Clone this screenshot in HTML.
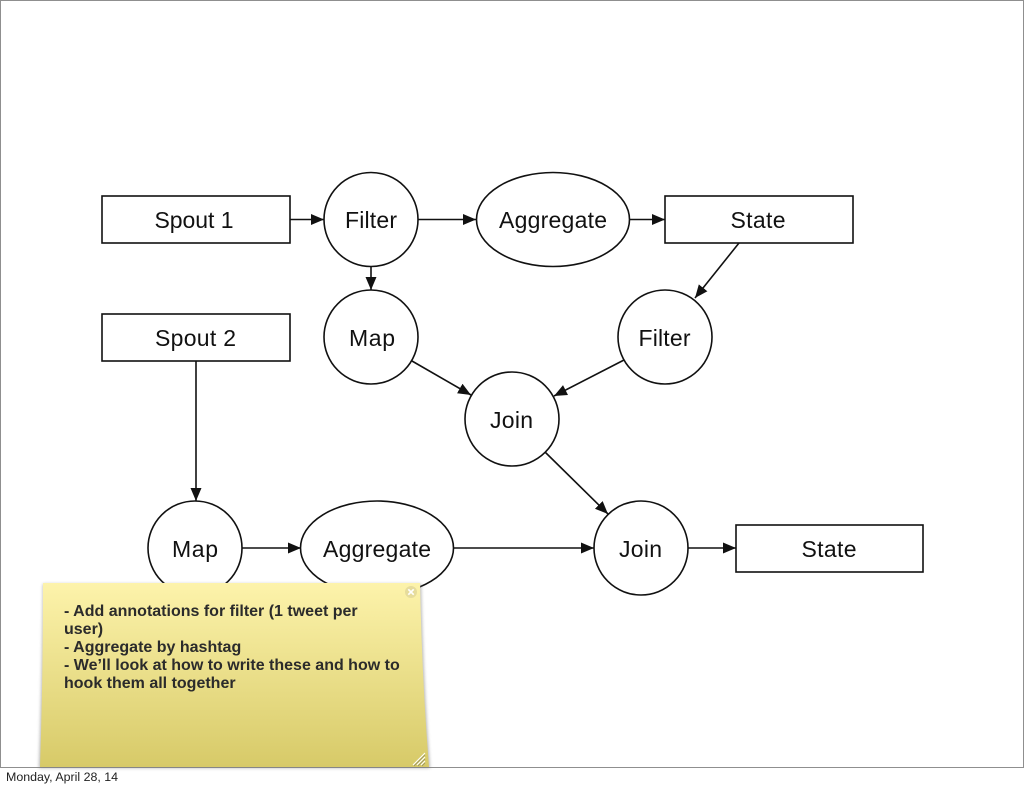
<!DOCTYPE html>
<html><head><meta charset="utf-8"><style>
html,body{margin:0;padding:0;background:#fff}
body{width:1024px;height:788px;position:relative;overflow:hidden;font-family:"Liberation Sans",sans-serif}
svg{position:absolute;left:0;top:0}
text{font-family:"Liberation Sans",sans-serif;font-size:23px;fill:#111;text-anchor:middle}
.s{fill:#fff;stroke:#111;stroke-width:1.6}
.l{stroke:#111;stroke-width:1.6;fill:none}
.t{position:absolute;left:64px;top:603px;width:345px;font-weight:bold;font-size:16px;line-height:18px;color:#2b2b2b;white-space:nowrap}
.f{position:absolute;left:6px;top:770px;font-size:12.4px;line-height:15px;color:#222}
</style></head><body>
<svg width="1024" height="788" viewBox="0 0 1024 788">
<defs>
<marker id="a" markerUnits="userSpaceOnUse" markerWidth="14" markerHeight="12" refX="13" refY="5.500" orient="auto"><path d="M0 0L13 5.500L0 11Z" fill="#111"/></marker>
<linearGradient id="g" x1="0" y1="0" x2="0" y2="1"><stop offset="0" stop-color="#fdf3ab"/><stop offset="1" stop-color="#d7ca68"/></linearGradient>
<filter id="b" x="-5%" y="-5%" width="110%" height="110%"><feGaussianBlur stdDeviation="1.500"/></filter>
</defs>
<rect x=".5" y=".5" width="1023" height="767" fill="#fff" stroke="#8f8f8f"/>
<rect class="s" x="102" y="196" width="188" height="47"/>
<rect class="s" x="665" y="196" width="188" height="47"/>
<rect class="s" x="102" y="314" width="188" height="47"/>
<rect class="s" x="736" y="525" width="187" height="47"/>
<circle class="s" cx="371" cy="219.500" r="47"/>
<ellipse class="s" cx="553" cy="219.500" rx="76.500" ry="47"/>
<circle class="s" cx="371" cy="337" r="47"/>
<circle class="s" cx="665" cy="337" r="47"/>
<circle class="s" cx="512" cy="419" r="47"/>
<circle class="s" cx="195" cy="548" r="47"/>
<ellipse class="s" cx="377" cy="548" rx="76.500" ry="47"/>
<circle class="s" cx="641" cy="548" r="47"/>
<line class="l" x1="290" y1="219.500" x2="324" y2="219.500" marker-end="url(#a)"/>
<line class="l" x1="418" y1="219.500" x2="476" y2="219.500" marker-end="url(#a)"/>
<line class="l" x1="629" y1="219.500" x2="665" y2="219.500" marker-end="url(#a)"/>
<line class="l" x1="371" y1="266" x2="371" y2="290" marker-end="url(#a)"/>
<line class="l" x1="739" y1="243" x2="695" y2="298" marker-end="url(#a)"/>
<line class="l" x1="412" y1="361" x2="471" y2="395" marker-end="url(#a)"/>
<line class="l" x1="624" y1="360" x2="554" y2="396" marker-end="url(#a)"/>
<line class="l" x1="196" y1="361" x2="196" y2="501" marker-end="url(#a)"/>
<line class="l" x1="545" y1="452" x2="608" y2="514" marker-end="url(#a)"/>
<line class="l" x1="242" y1="548" x2="301" y2="548" marker-end="url(#a)"/>
<line class="l" x1="453" y1="548" x2="594" y2="548" marker-end="url(#a)"/>
<line class="l" x1="688" y1="548" x2="736" y2="548" marker-end="url(#a)"/>
<text x="194" y="228" textLength="79">Spout 1</text>
<text x="371" y="228" textLength="52">Filter</text>
<text x="553" y="228" textLength="108">Aggregate</text>
<text x="758" y="228" textLength="55">State</text>
<text x="195.500" y="346" textLength="81">Spout 2</text>
<text x="372" y="346" textLength="46">Map</text>
<text x="664.500" y="346" textLength="52">Filter</text>
<text x="511.500" y="428" textLength="43">Join</text>
<text x="195" y="557" textLength="46">Map</text>
<text x="377" y="557" textLength="108">Aggregate</text>
<text x="640.500" y="557" textLength="43">Join</text>
<text x="829" y="557" textLength="55">State</text>
<path d="M42 584L421 584Q423 680 430 768L39 768Q42 680 43 584Z" fill="#777" opacity=".55" filter="url(#b)"/>
<path d="M43 583L420 583Q422 680 429 767L40 767Q43 680 43 583Z" fill="url(#g)"/>
<circle cx="411" cy="592" r="6" fill="#e6dc9c"/>
<path d="M408.300 589.300l5.400 5.400m0-5.400l-5.400 5.400" stroke="#fff" stroke-width="1.700"/>
<path d="M413 765l12-12M417 765l8-8M421 765l4-4" stroke="#fff" stroke-width="1"/>
<path d="M414 766l11-11M418 766l7-7M422 766l3-3" stroke="#8d8a62" stroke-width=".7"/>
</svg>
<div class="t">- Add annotations for filter (1 tweet per<br>user)<br>- Aggregate by hashtag<br>- We’ll look at how to write these and how to<br>hook them all together</div>
<div class="f">Monday, April 28, 14</div>
</body></html>
